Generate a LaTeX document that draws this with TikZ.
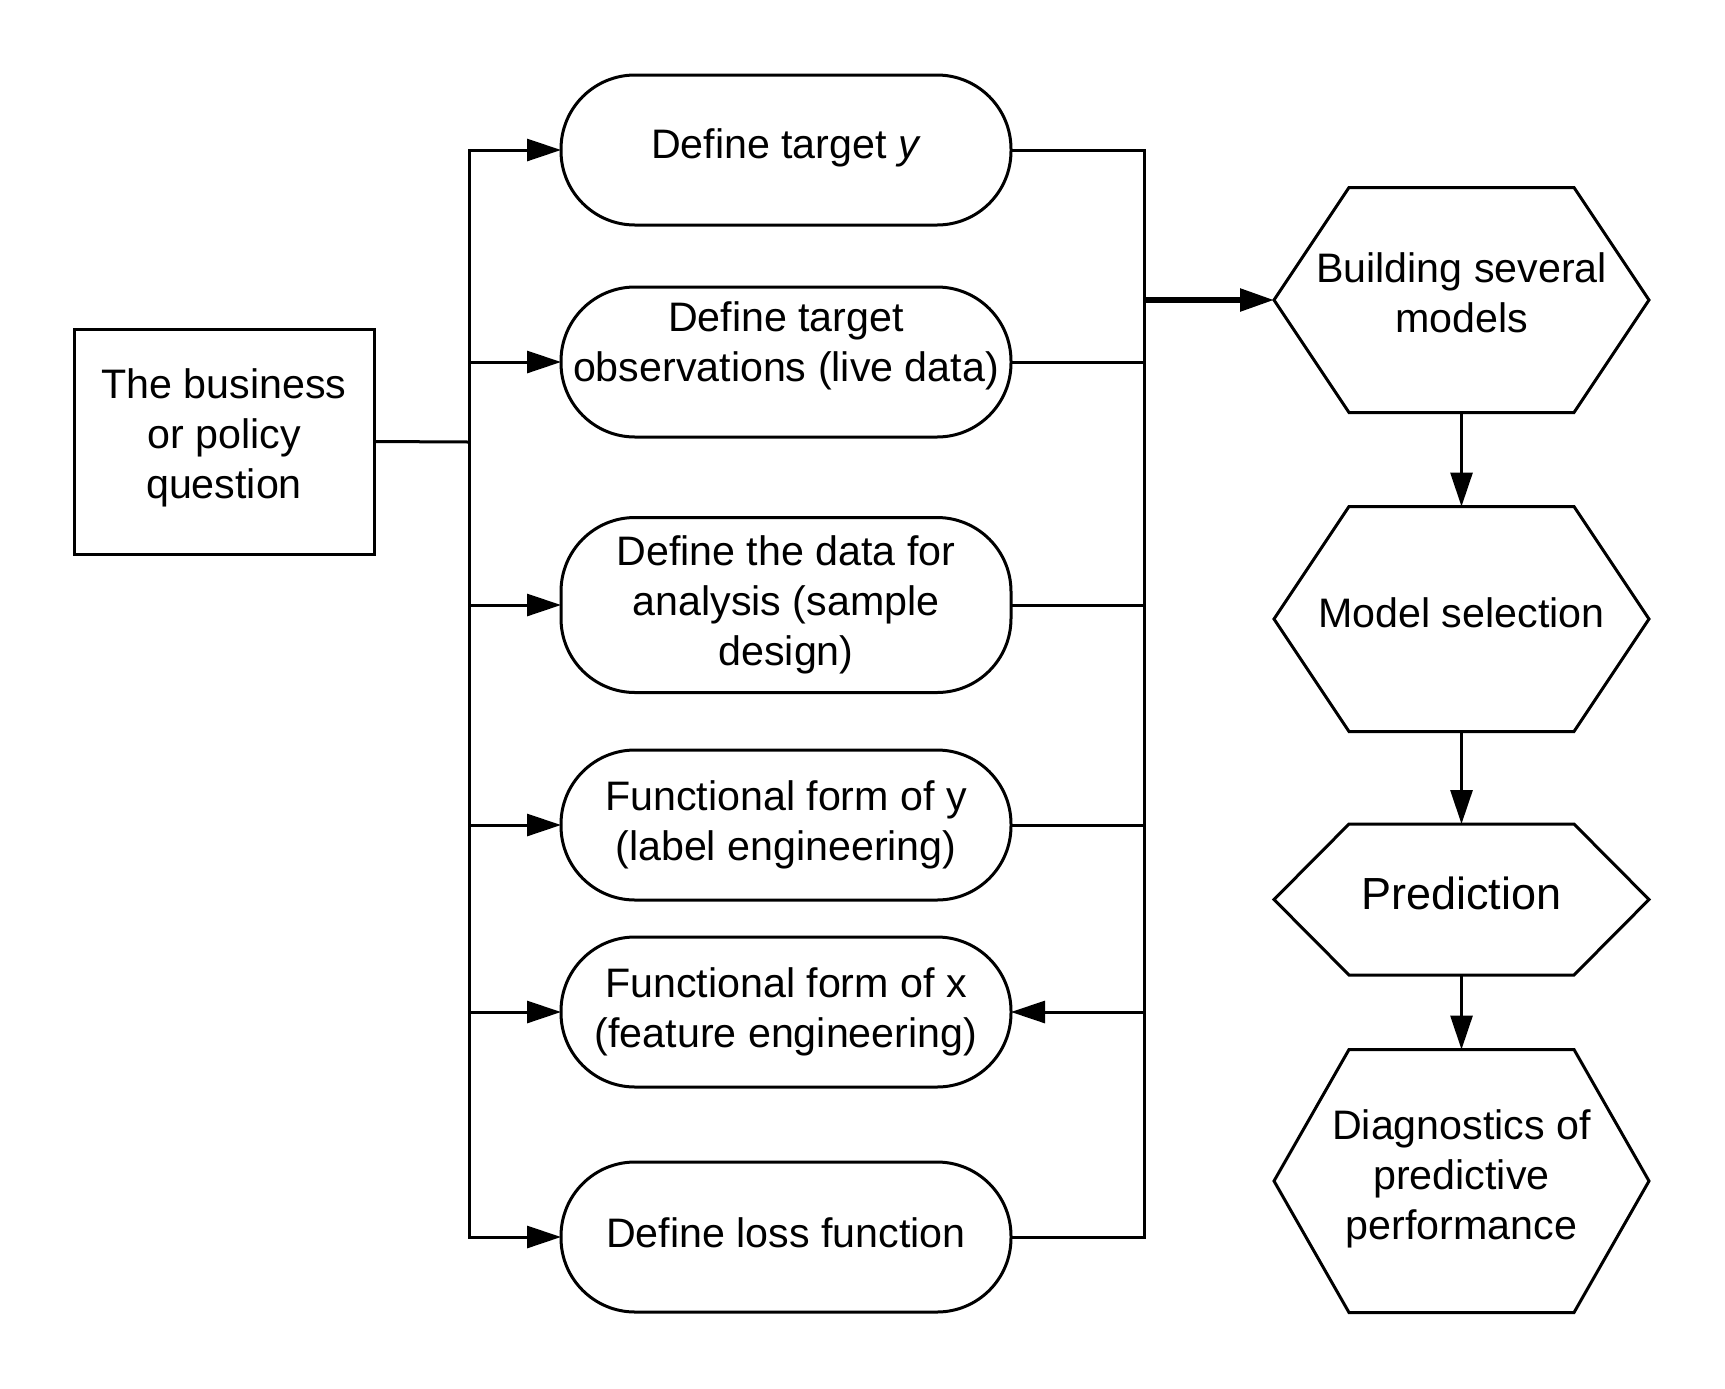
\documentclass[tikz,border=0pt]{standalone}
\usepackage{fontspec}
\setmainfont{Liberation Sans}
\usetikzlibrary{arrows.meta}
% pushes the last text line's depth down, so the text sits higher in its shape
\newcommand{\liftby}[1]{\rule[-#1]{0pt}{#1}}

\begin{document}
\begin{tikzpicture}[x=0.5pt, y=-0.5pt,
    every node/.style={font=\fontsize{20.6}{25}\selectfont, align=center, inner sep=0pt, outer sep=0pt},
    qbox/.style={draw, line width=1.5pt, minimum width=150pt, minimum height=112.5pt},
    stadium/.style={draw, line width=1.5pt, rounded corners=37pt, minimum width=225pt, minimum height=75pt},
    hexnode/.style={minimum width=187.5pt},
    link/.style={line width=1.5pt},
    flow/.style={link, -{Triangle[length=17pt, width=11pt]}}]
    \useasboundingbox (0,0) rectangle (1725,1388);

    % Question
    \node[qbox] (question) at (224,441.5) {The business\\or policy\\question\liftby{7.6pt}};

    % Steps
    \node[stadium] (s1) at (786,150) {Define target \textit{y}\liftby{6.5pt}};
    \node[stadium] (s2) at (786,362) {Define target\\observations (live data)\liftby{20.9pt}};
    \node[stadium, minimum height=87.5pt] (s3) at (786,605) {Define the data for\\analysis (sample\\design)};
    \node[stadium] (s4) at (786,825) {Functional form of y\\(label engineering)};
    \node[stadium] (s5) at (786,1012) {Functional form of x\\(feature engineering)};
    \node[stadium] (s6) at (786,1237) {Define loss function\liftby{4.4pt}};

    % Models
    \node[hexnode, minimum height=112.5pt] (build) at (1461.5,300) {Building several\\models\liftby{7.7pt}};
    \node[hexnode, minimum height=112.5pt] (select) at (1461.5,619) {Model selection\liftby{6.6pt}};
    \node[hexnode, minimum height=75.5pt, font=\fontsize{22.5}{27}\selectfont] (predict) at (1461.5,899.5) {Prediction\liftby{6.6pt}};
    \node[hexnode, minimum height=131.5pt] (diag) at (1461.5,1181) {Diagnostics of\\predictive\\performance\liftby{6.5pt}};
    \foreach \h in {build,select,predict,diag}
        \draw[link] ([xshift=37.5pt]\h.north west) -- ([xshift=-37.5pt]\h.north east) -- (\h.east)
            -- ([xshift=-37.5pt]\h.south east) -- ([xshift=37.5pt]\h.south west) -- (\h.west) -- cycle;

    % Left bus
    \coordinate (lbus) at (469,442);
    \draw[link] (question.east) -- (lbus);
    \draw[link, line cap=rect] (lbus |- s1) -- (lbus |- s6);
    \foreach \s in {s1,s2,s3,s4,s5,s6}
        \draw[flow] (lbus |- \s) -- (\s.west);

    % Right bus
    \coordinate (rbus) at (1144,300);
    \draw[link, line cap=rect] (rbus |- s1) -- (rbus |- s6);
    \foreach \s in {s1,s2,s3,s4,s6}
        \draw[link] (\s.east) -- (rbus |- \s);
    \draw[flow] (rbus |- s5) -- (s5.east);
    \draw[flow, line width=2.8pt] (rbus) -- (build.west);

    % Down the models
    \draw[flow] (build.south) -- (select.north);
    \draw[flow] (select.south) -- (predict.north);
    \draw[flow] (predict.south) -- (diag.north);
\end{tikzpicture}
\end{document}
